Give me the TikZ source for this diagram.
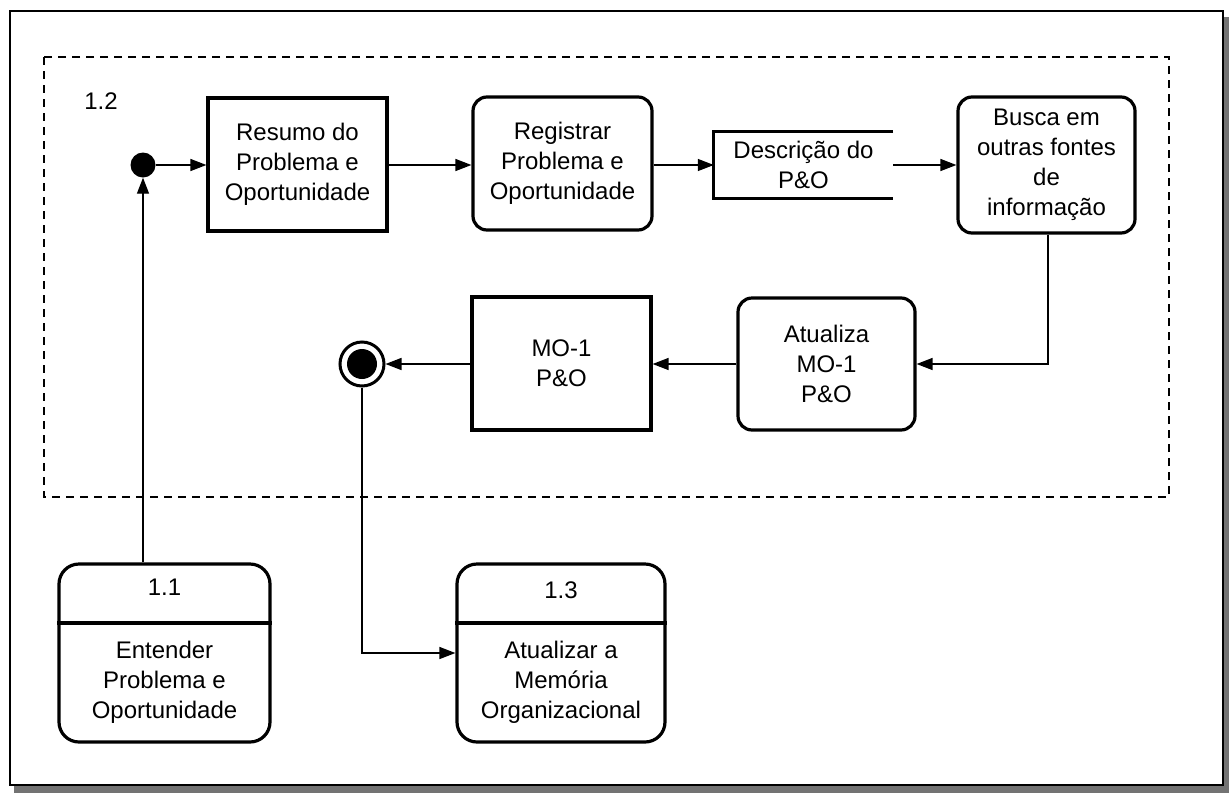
\documentclass[tikz,border=0pt]{standalone}
\usepackage{fontspec}
\setmainfont{Liberation Sans}
\usetikzlibrary{arrows.meta}
\begin{document}
\begin{tikzpicture}[x=1pt,y=-1pt,
  txt/.style={font=\fontsize{24}{30}\selectfont, align=center},
  procbox/.style={txt, draw, line width=3.2pt, minimum width=179pt, minimum height=133pt, inner sep=0pt},
  roundbox/.style={procbox, rounded corners=14pt},
  cardbox/.style={draw, line width=3.2pt, rounded corners=20pt, minimum height=178pt, inner sep=0pt},
  conn/.style={line width=1.4pt, -{Triangle[length=16pt,width=12pt]}},
]
\useasboundingbox (0,0) rectangle (1229,793);
% outer frame with shadow
\fill[gray!90!black] (14,17) rectangle (1229,793);
\draw[line width=1.6pt, fill=white] (10,11) rectangle (1223,785);
% dashed group
\draw[line width=1.3pt, dash pattern=on 8pt off 6pt] (44,57) rectangle (1169,497);
\node[txt] (lbl12) at (101,101) {1.2};
% nodes
\node[circle, fill, minimum size=25pt, inner sep=0pt] (start) at (143,165) {};
\node[procbox] (resumo) at (297.5,164.5) {Resumo do\\Problema e\\Oportunidade};
\node[roundbox] (registrar) at (562.5,163.5) {Registrar\\Problema e\\Oportunidade};
\node[txt, minimum width=179pt, minimum height=66pt, inner sep=0pt] (desc) at (803.5,165) {Descrição do\\P\&O};
\draw[line width=3.2pt] (desc.north east) -- (desc.north west) -- (desc.south west) -- (desc.south east);
\node[roundbox, minimum width=177pt, minimum height=136pt] (busca) at (1046.5,165) {Busca em\\outras fontes\\de\\informação};
\node[roundbox, minimum width=177pt, minimum height=132pt] (atualiza) at (826.5,364) {Atualiza\\MO-1\\ P\&O};
\node[procbox] (mo1) at (561.5,363.5) {MO-1\\P\&O};
\node[circle, draw, line width=3pt, fill=white, minimum size=44pt, inner sep=0pt] (endpt) at (362,364) {};
\fill (endpt.center) circle (15);
% cards
\node[cardbox, minimum width=211pt] (p11) at (164.5,653) {};
\draw[line width=3.2pt] (p11.west |- 0,623) -- (p11.east |- 0,623);
\node[txt] (p11n) at (164.5,587) {1.1};
\node[txt] (p11t) at (164.5,682) {Entender\\Problema e\\Oportunidade};
\node[cardbox, minimum width=208pt] (p13) at (561,653) {};
\draw[line width=3.2pt] (p13.west |- 0,623) -- (p13.east |- 0,623);
\node[txt] (p13n) at (561,590) {1.3};
\node[txt] (p13t) at (561,682) {Atualizar a\\Memória\\Organizacional};
% connectors
\draw[conn] (start.east) -- (start -| resumo.west);
\draw[conn] (resumo.east |- 0,165) -- (registrar.west |- 0,165);
\draw[conn] (registrar.east |- 0,165) -- (desc.west |- 0,165);
\draw[conn] (desc.east) -- (busca.west |- desc.east);
\draw[conn] (busca.south -| 1048,0) |- (atualiza.east);
\draw[conn] (atualiza.west) -- (atualiza.west -| mo1.east);
\draw[conn] (mo1.west |- endpt) -- (endpt.east);
\draw[conn] (start |- p11.north) -- (start.south);
\draw[conn] (endpt.south) |- (p13.west);
\end{tikzpicture}
\end{document}
